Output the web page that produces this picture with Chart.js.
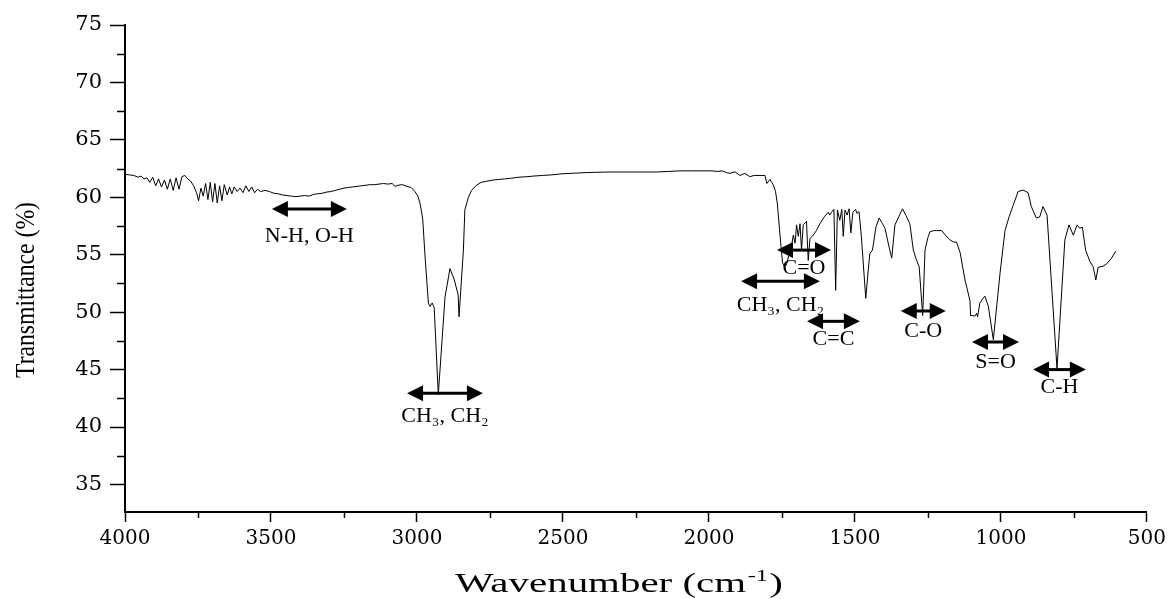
<!DOCTYPE html>
<html>
<head>
<meta charset="utf-8">
<script src="https://cdn.jsdelivr.net/npm/chart.js@4.4.1/dist/chart.umd.min.js"></script>
<style>
  html, body { margin: 0; padding: 0; background: #fff; }
  #wrap { width: 1171px; height: 599px; }
</style>
</head>
<body>
<div id="wrap"><canvas id="ftir" width="1171" height="599"></canvas></div>
<script>
/* FTIR spectrum, transmittance vs wavenumber */
var wavenumber = [
  4000, 3985, 3970, 3955, 3945, 3935, 3925, 3915, 3905, 3895, 3885, 3875, 3865, 3855, 3845, 3835, 3825, 3815, 3805, 3795,
  3785, 3775, 3765, 3755, 3748, 3740, 3732, 3724, 3716, 3708, 3700, 3692, 3684, 3676, 3668, 3660, 3650, 3642, 3634, 3626,
  3616, 3606, 3596, 3586, 3576, 3566, 3556, 3546, 3536, 3520, 3505, 3490, 3475, 3460, 3445, 3430, 3415, 3400, 3385, 3370,
  3355, 3340, 3325, 3310, 3295, 3280, 3265, 3250, 3235, 3220, 3205, 3190, 3175, 3160, 3145, 3130, 3115, 3100, 3085, 3075,
  3065, 3050, 3035, 3020, 3007, 2997, 2990, 2984, 2980, 2973, 2961, 2955, 2948, 2941, 2927, 2904, 2887, 2872, 2859, 2856,
  2841, 2836, 2824, 2813, 2796, 2780, 2761, 2740, 2720, 2700, 2680, 2650, 2620, 2600, 2570, 2540, 2500, 2460, 2420, 2380,
  2340, 2300, 2260, 2220, 2180, 2140, 2100, 2060, 2020, 1990, 1970, 1955, 1940, 1928, 1911, 1894, 1877, 1860, 1845, 1825,
  1808, 1802, 1791, 1780, 1772, 1766, 1757, 1748, 1742, 1735, 1728, 1722, 1717, 1711, 1705, 1700, 1694, 1688, 1683, 1677,
  1666, 1660, 1654, 1643, 1632, 1620, 1605, 1591, 1586, 1580, 1572, 1566, 1560, 1552, 1545, 1540, 1534, 1527, 1520, 1514,
  1507, 1498, 1493, 1486, 1478, 1463, 1455, 1449, 1440, 1428, 1417, 1408, 1397, 1386, 1374, 1363, 1350, 1337, 1325, 1312,
  1300, 1290, 1280, 1268, 1260, 1250, 1243, 1230, 1220, 1203, 1190, 1175, 1163, 1152, 1140, 1123, 1106, 1104, 1096, 1089,
  1083, 1080, 1072, 1062, 1055, 1043, 1026, 1003, 986, 972, 958, 941, 924, 907, 896, 879, 867, 856, 842, 808,
  781, 767, 752, 739, 730, 721, 710, 695, 684, 675, 667, 650, 638, 621, 607
];
var transmittance = [
  62.0, 61.95, 61.9, 61.75, 61.85, 61.6, 61.7, 61.3, 61.75, 61.0, 61.6, 60.9, 61.5, 60.7, 61.6, 60.6, 61.7, 60.7, 61.8, 61.9,
  61.6, 61.4, 61.0, 60.4, 59.7, 60.8, 60.1, 61.2, 59.8, 61.3, 59.6, 61.2, 59.5, 61.0, 59.7, 61.1, 60.2, 60.9, 60.3, 60.9,
  60.5, 60.8, 60.4, 61.0, 60.5, 60.9, 60.4, 60.7, 60.5, 60.6, 60.5, 60.35, 60.3, 60.2, 60.15, 60.1, 60.05, 60.1, 60.15, 60.1,
  60.25, 60.3, 60.35, 60.45, 60.5, 60.6, 60.7, 60.8, 60.85, 60.9, 60.95, 61.0, 61.05, 61.1, 61.1, 61.15, 61.2, 61.15, 61.2, 60.95,
  61.05, 61.1, 60.95, 60.85, 60.5, 60.1, 59.5, 58.7, 58.0, 55.1, 50.8, 50.5, 50.8, 50.4, 42.8, 51.3, 53.8, 52.8, 51.5, 49.6,
  55.4, 58.9, 60.0, 60.6, 61.06, 61.3, 61.4, 61.5, 61.55, 61.6, 61.65, 61.75, 61.8, 61.85, 61.9, 61.95, 62.05, 62.1, 62.15, 62.18,
  62.2, 62.2, 62.2, 62.2, 62.2, 62.25, 62.3, 62.3, 62.3, 62.3, 62.25, 62.3, 62.15, 62.08, 62.22, 61.9, 62.08, 61.8, 61.9, 61.9,
  61.9, 61.2, 61.55, 61.1, 60.5, 59.5, 56.8, 54.3, 54.0, 54.1, 54.8, 55.6, 55.8, 56.7, 56.0, 57.6, 56.6, 57.7, 55.4, 57.6,
  57.9, 54.5, 56.4, 56.7, 57.1, 57.7, 58.3, 58.7, 58.45, 58.7, 58.95, 51.9, 58.9, 58.0, 58.95, 56.6, 58.9, 58.45, 59.0, 56.9,
  58.7, 58.95, 58.6, 58.75, 56.6, 51.2, 53.5, 55.1, 55.4, 57.4, 58.2, 57.8, 57.3, 56.0, 54.7, 57.6, 58.3, 59.0, 58.4, 57.7,
  55.4, 54.6, 53.95, 49.7, 55.4, 56.5, 57.0, 57.1, 57.1, 57.1, 56.7, 56.3, 56.1, 56.1, 55.2, 52.8, 51.0, 49.7, 49.7, 49.65,
  49.9, 49.6, 50.8, 51.2, 51.4, 50.5, 47.6, 53.4, 57.1, 58.3, 59.3, 60.5, 60.63, 60.4, 59.2, 58.2, 58.3, 59.2, 58.45, 45.1,
  56.3, 57.6, 56.7, 57.6, 57.3, 57.4, 55.4, 54.4, 53.95, 52.8, 53.9, 54.0, 54.2, 54.7, 55.3
];

var xTicks = [4000, 3500, 3000, 2500, 2000, 1500, 1000, 500];
var yTicks = [35, 40, 45, 50, 55, 60, 65, 70, 75];

// band assignments: arrow span (cm-1), arrow level and label position
var bandNames  = ['N-H, O-H', 'CH\u2083, CH\u2082', 'C=O', 'CH\u2083, CH\u2082', 'C=C', 'C-O', 'S=O', 'C-H'];
var bandFrom   = [3497, 3034, 1767, 1890, 1664, 1343, 1099, 890];
var bandTo     = [3240, 2774, 1582, 1620, 1483, 1189, 938, 709];
var bandLevel  = [58.97, 42.94, 55.4, 52.7, 49.2, 50.1, 47.4, 45.0];
var labelLevel = [56.6, 40.9, 53.8, 50.6, 47.6, 48.35, 45.6, 43.45];

// minor ticks sit halfway between major ones
function halfway(arr) {
  var out = [];
  for (var i = 0; i < arr.length - 1; i++) out.push((arr[i] + arr[i + 1]) / 2);
  return out;
}

var extras = {
  id: 'extras',
  afterDraw: function (chart) {
    var c = chart.ctx;
    var xs = chart.scales.x, ys = chart.scales.y;
    var area = chart.chartArea;
    c.save();
    c.strokeStyle = '#000';
    c.fillStyle = '#000';

    // minor ticks
    c.lineWidth = 1.5;
    halfway(xTicks).forEach(function (v) {
      var px = Math.round(xs.getPixelForValue(v)) + 0.5;
      c.beginPath(); c.moveTo(px, area.bottom); c.lineTo(px, area.bottom + 6); c.stroke();
    });
    halfway(yTicks).forEach(function (v) {
      var py = Math.round(ys.getPixelForValue(v)) + 0.5;
      c.beginPath(); c.moveTo(area.left - 8, py); c.lineTo(area.left, py); c.stroke();
    });

    // band arrows + labels
    for (var i = 0; i < bandNames.length; i++) {
      var x1 = xs.getPixelForValue(bandFrom[i]);
      var x2 = xs.getPixelForValue(bandTo[i]);
      var y = ys.getPixelForValue(bandLevel[i]);
      var head = 16, half = 8;
      c.lineWidth = 3;
      c.beginPath(); c.moveTo(x1 + head - 2, y); c.lineTo(x2 - head + 2, y); c.stroke();
      c.beginPath(); c.moveTo(x1, y); c.lineTo(x1 + head, y - half); c.lineTo(x1 + head, y + half); c.closePath(); c.fill();
      c.beginPath(); c.moveTo(x2, y); c.lineTo(x2 - head, y - half); c.lineTo(x2 - head, y + half); c.closePath(); c.fill();

      c.font = '22px "Liberation Serif", "Times New Roman", serif';
      c.textAlign = 'center';
      c.textBaseline = 'middle';
      c.fillText(bandNames[i], (x1 + x2) / 2, ys.getPixelForValue(labelLevel[i]));
    }

    // x axis title, stretched wide like the original
    var main = 'Wavenumber (cm', sup = '-1', close = ')';
    c.textBaseline = 'alphabetic';
    c.textAlign = 'left';
    c.font = '27px "Liberation Serif", serif';
    var w1 = c.measureText(main).width, w3 = c.measureText(close).width;
    c.font = '16px "Liberation Serif", serif';
    var w2 = c.measureText(sup).width;
    var total = w1 + w2 + w3 + 2;
    var sx = 328 / total;
    c.save();
    c.translate(619 - 164, 592);
    c.scale(sx, 1);
    c.font = '27px "Liberation Serif", serif';
    c.fillText(main, 0, 0);
    c.font = '16px "Liberation Serif", serif';
    c.fillText(sup, w1 + 1, -11);
    c.font = '27px "Liberation Serif", serif';
    c.fillText(close, w1 + w2 + 2, 0);
    c.restore();

    // y axis title, rotated and squeezed
    c.save();
    c.translate(34, 290);
    c.rotate(-Math.PI / 2);
    c.font = '27px "Liberation Serif", serif';
    c.textAlign = 'center';
    var ty = 'Transmittance (%)';
    var sy = 176 / c.measureText(ty).width;
    c.scale(sy, 1);
    c.fillText(ty, 0, 0);
    c.restore();

    c.restore();
  }
};

var ctx = document.getElementById('ftir');
var chart = new Chart(ctx, {
  type: 'line',
  data: {
    datasets: [{
      data: wavenumber.map(function (w, i) { return { x: w, y: transmittance[i] }; }),
      borderColor: '#000',
      borderWidth: 1,
      pointRadius: 0,
      tension: 0,
      fill: false
    }]
  },
  options: {
    responsive: false,
    animation: false,
    layout: { padding: { top: 25, right: 24, left: 0, bottom: 0 } },
    plugins: { legend: { display: false }, tooltip: { enabled: false } },
    scales: {
      x: {
        type: 'linear',
        reverse: true,
        min: 500,
        max: 4000,
        afterBuildTicks: function (s) { s.ticks = xTicks.map(function (v) { return { value: v }; }); },
        afterFit: function (s) { s.height = 87; },
        grid: { drawOnChartArea: false, tickLength: 10, tickWidth: 1.5, tickColor: '#000' },
        border: { color: '#000', width: 2 },
        ticks: {
          color: '#000',
          maxRotation: 0,
          padding: 5,
          font: { family: 'DejaVu Serif', size: 20 },
          callback: function (v) { return String(v); }
        }
      },
      y: {
        min: 32.6,
        max: 75,
        afterBuildTicks: function (s) { s.ticks = yTicks.map(function (v) { return { value: v }; }); },
        afterFit: function (s) { s.width = 125; },
        grid: { drawOnChartArea: false, tickLength: 15, tickWidth: 1.5, tickColor: '#000' },
        border: { color: '#000', width: 2 },
        ticks: {
          color: '#000',
          padding: 8,
          font: { family: 'DejaVu Serif', size: 21 },
          callback: function (v) { return String(v); }
        }
      }
    }
  },
  plugins: [extras]
});
</script>
</body>
</html>
